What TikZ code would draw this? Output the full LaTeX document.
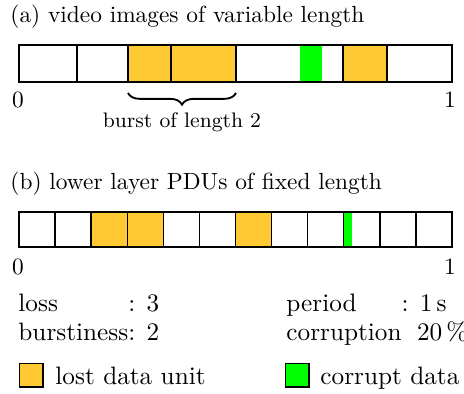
\documentclass[tikz,border=0pt]{standalone}
\usepackage{xcolor}
\usepackage{tikz}
\usetikzlibrary{decorations.pathreplacing, positioning}
\definecolor{perdu}{HTML}{FFC933}
\definecolor{corrompu}{HTML}{00FF00}

\begin{document}
\begin{tikzpicture}[x=0.428pt, y=-0.428pt,
    cadre/.style={draw=black, line width=0.6pt},
    titre/.style={anchor=base west, inner sep=0pt},
    borne/.style={anchor=base, inner sep=0pt},
    bas/.style={inner sep=0pt, font=\fontsize{10.8}{12.4}\selectfont},
    carre/.style={cadre, minimum size=10pt, inner sep=0pt, anchor=north west, line width=0.5pt}]
  \useasboundingbox (0,0) rectangle (464,394);

  % (a) images de longueur variable
  \node[titre] (titreA) at (10,22) {(a) video images of variable length};
  \foreach \a/\b/\c in {19/77/white, 77/128/white, 128/171/perdu, 171/236/perdu,
      236/343/white, 343/387/perdu, 387/452/white} {
    \fill[\c] (\a,45) rectangle (\b,82);
  }
  \fill[corrompu] (300,45) rectangle (322,82);
  \foreach \a in {77,128,171,236,343,387} {
    \draw[cadre] (\a,45) -- (\a,82);
  }
  \draw[cadre] (19,45) rectangle (452,82);
  \node[borne] (zeroA) at (18,108) {0};
  \node[borne] (unA) at (450,108) {1};
  \coordinate (rafaleG) at (128,93);
  \coordinate (rafaleD) at (236,93);
  \draw[decorate, decoration={brace, mirror, amplitude=5pt}, line width=0.8pt]
    (rafaleG) -- (rafaleD);
  \node[borne, font=\small] (rafale) at (182,127) {burst of length 2};

  % (b) PDU de longueur fixe
  \node[titre] (titreB) at (10,189) {(b) lower layer PDUs of fixed length};
  \foreach \i/\c in {0/white, 1/white, 2/perdu, 3/perdu, 4/white, 5/white,
      6/perdu, 7/white, 8/white, 9/white, 10/white, 11/white} {
    \fill[\c] (19+\i*36.083,212) rectangle (19+\i*36.083+36.083,247);
  }
  \fill[corrompu] (344,212) rectangle (352,247);
  \foreach \i in {1,...,11} {
    \draw[cadre] (19+\i*36.083,212) -- (19+\i*36.083,247);
  }
  \draw[cadre] (19,212) rectangle (452,247);
  \node[borne] (zeroB) at (18,274) {0};
  \node[borne] (unB) at (450,274) {1};

  % parametres
  \node[bas, anchor=base west] (params) at (18,312)
    {\begin{tabular}[t]{@{}l@{}l@{}}loss & : 3\\ burstiness & : 2\end{tabular}};
  \node[bas, anchor=base west] (periode) at (286,312)
    {\begin{tabular}[t]{@{}l@{}l@{}}period & : 1\,s\\ corruption & \phantom{:} 20\,\%\end{tabular}};

  % legende
  \node[carre, fill=perdu] (legPerdu) at (19,363) {};
  \node[bas, anchor=base west] (txtPerdu) at (55,385) {lost data unit};
  \node[carre, fill=corrompu] (legCorr) at (285,363) {};
  \node[bas, anchor=base west] (txtCorr) at (320,385) {corrupt data};
\end{tikzpicture}
\end{document}
